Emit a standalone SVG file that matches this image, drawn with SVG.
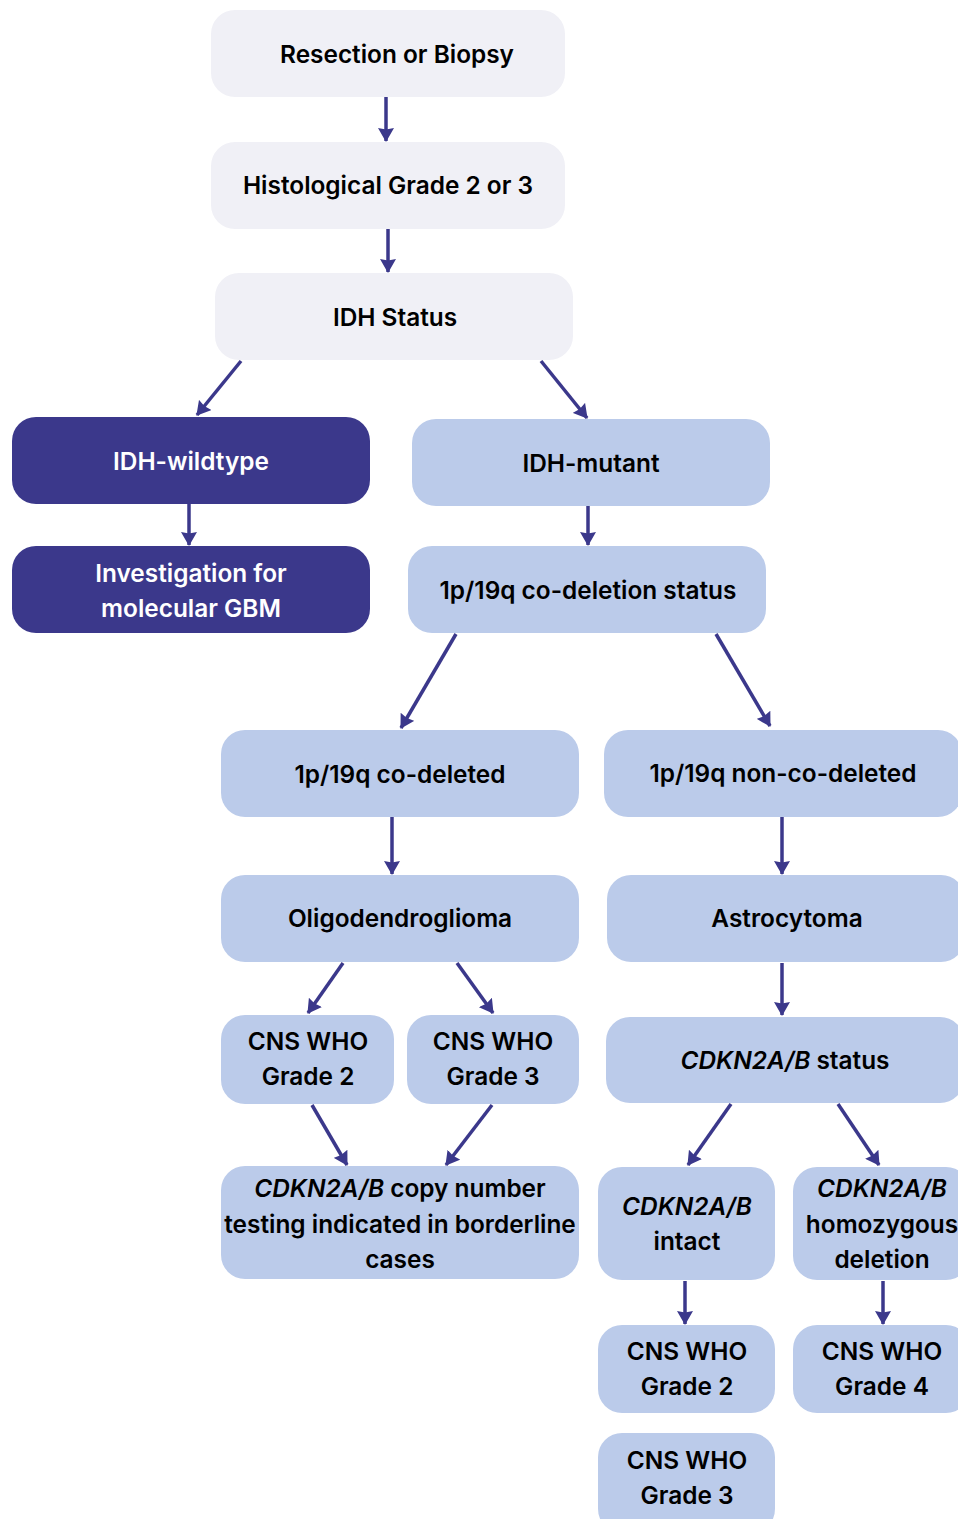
<svg xmlns="http://www.w3.org/2000/svg" width="958" height="1519" viewBox="0 0 958 1519">
<defs>
<style>
.g rect{fill:#F0F0F6}
.d rect{fill:#3B388B}
.b rect{fill:#BBCBEA}
text{font-family:Inter,"Noto Sans",sans-serif;font-weight:600;font-size:24.4px;fill:#000;text-anchor:middle;dominant-baseline:central}
.d text{fill:#fff}
.i{font-style:italic}
#edges line{stroke:#3B388B;stroke-width:3.5;marker-end:url(#ah)}
</style>
<marker id="ah" viewBox="0 0 14 16" refX="13" refY="8" markerWidth="14" markerHeight="16" markerUnits="userSpaceOnUse" orient="auto">
<path d="M0,0 L14,8 L0,16 L1.5,8 z" fill="#3B388B"/>
</marker>
</defs>
<rect width="958" height="1519" fill="#fff"/>
<g id="edges">
<line x1="386" y1="97" x2="386" y2="141"/>
<line x1="388" y1="229" x2="388" y2="272"/>
<line x1="241" y1="361" x2="197" y2="415"/>
<line x1="541" y1="361" x2="587" y2="418"/>
<line x1="189" y1="504" x2="189" y2="545"/>
<line x1="588" y1="506" x2="588" y2="545"/>
<line x1="456" y1="634" x2="401" y2="728"/>
<line x1="716" y1="634" x2="770" y2="726"/>
<line x1="392" y1="817" x2="392" y2="874"/>
<line x1="782" y1="817" x2="782" y2="874"/>
<line x1="343" y1="963" x2="308" y2="1013"/>
<line x1="457" y1="963" x2="493" y2="1013"/>
<line x1="782" y1="963" x2="782" y2="1015"/>
<line x1="731" y1="1104" x2="688" y2="1165"/>
<line x1="838" y1="1104" x2="879" y2="1165"/>
<line x1="312" y1="1105" x2="347" y2="1165"/>
<line x1="492" y1="1105" x2="446" y2="1165"/>
<line x1="685" y1="1281" x2="685" y2="1324"/>
<line x1="883" y1="1281" x2="883" y2="1324"/>
</g>
<g id="n1" class="g"><rect x="211" y="10" width="354" height="87" rx="24"/><text x="397" y="54">Resection or Biopsy</text></g>
<g id="n2" class="g"><rect x="211" y="142" width="354" height="87" rx="24"/><text x="388" y="185">Histological Grade 2 or 3</text></g>
<g id="n3" class="g"><rect x="215" y="273" width="358" height="87" rx="24"/><text x="395" y="317">IDH Status</text></g>
<g id="n4" class="d"><rect x="12" y="417" width="358" height="87" rx="24"/><text x="191" y="461">IDH-wildtype</text></g>
<g id="n5" class="b"><rect x="412" y="419" width="358" height="87" rx="24"/><text x="591" y="463">IDH-mutant</text></g>
<g id="n6" class="d"><rect x="12" y="546" width="358" height="87" rx="24"/><text x="191" y="573">Investigation for</text><text x="191" y="608">molecular GBM</text></g>
<g id="n7" class="b"><rect x="408" y="546" width="358" height="87" rx="24"/><text x="588" y="590">1p/19q co-deletion status</text></g>
<g id="n8" class="b"><rect x="221" y="730" width="358" height="87" rx="24"/><text x="400" y="774">1p/19q co-deleted</text></g>
<g id="n9" class="b"><rect x="604" y="730" width="358" height="87" rx="24"/><text x="783" y="773">1p/19q non-co-deleted</text></g>
<g id="n10" class="b"><rect x="221" y="875" width="358" height="87" rx="24"/><text x="400" y="918">Oligodendroglioma</text></g>
<g id="n11" class="b"><rect x="607" y="875" width="358" height="87" rx="24"/><text x="787" y="918">Astrocytoma</text></g>
<g id="n12" class="b"><rect x="221" y="1015" width="173" height="89" rx="24"/><text x="308" y="1041">CNS WHO</text><text x="308" y="1076">Grade 2</text></g>
<g id="n13" class="b"><rect x="407" y="1015" width="172" height="89" rx="24"/><text x="493" y="1041">CNS WHO</text><text x="493" y="1076">Grade 3</text></g>
<g id="n14" class="b"><rect x="606" y="1017" width="358" height="86" rx="24"/><text x="785" y="1060"><tspan class="i">CDKN2A/B</tspan> status</text></g>
<g id="n15" class="b"><rect x="221" y="1166" width="358" height="113" rx="24"/><text x="400" y="1188"><tspan class="i">CDKN2A/B</tspan> copy number</text><text x="400" y="1224">testing indicated in borderline</text><text x="400" y="1259">cases</text></g>
<g id="n16" class="b"><rect x="598" y="1167" width="177" height="113" rx="24"/><text x="687" y="1206" class="i">CDKN2A/B</text><text x="687" y="1241">intact</text></g>
<g id="n17" class="b"><rect x="793" y="1167" width="177" height="113" rx="24"/><text x="882" y="1188" class="i">CDKN2A/B</text><text x="882" y="1224">homozygous</text><text x="882" y="1259">deletion</text></g>
<g id="n18" class="b"><rect x="598" y="1325" width="177" height="88" rx="24"/><text x="687" y="1351">CNS WHO</text><text x="687" y="1386">Grade 2</text></g>
<g id="n19" class="b"><rect x="793" y="1325" width="177" height="88" rx="24"/><text x="882" y="1351">CNS WHO</text><text x="882" y="1386">Grade 4</text></g>
<g id="n20" class="b"><rect x="598" y="1433" width="177" height="100" rx="24"/><text x="687" y="1460">CNS WHO</text><text x="687" y="1495">Grade 3</text></g>
</svg>
